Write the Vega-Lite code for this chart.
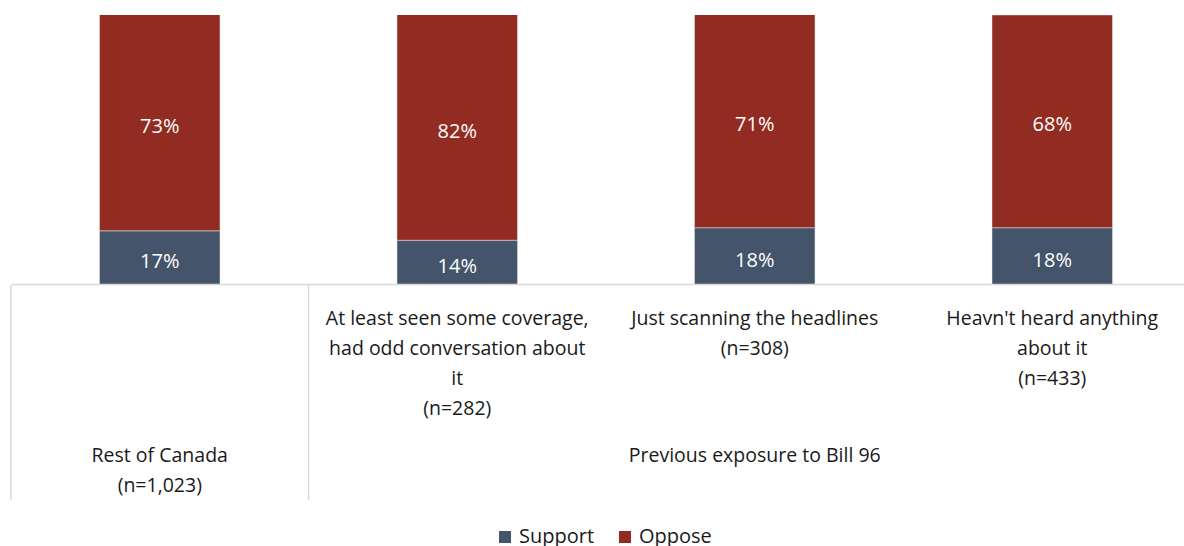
{
  "$schema": "https://vega.github.io/schema/vega-lite/v6.json",
  "padding": {"left": 10, "top": 15, "right": 0, "bottom": 0},
  "background": "white",
  "config": {"font": "Open Sans", "view": {"stroke": null}, "concat": {"spacing": 0}},
  "datasets": {
    "bars": [
      {"category": "Rest of Canada", "Support": 0.17, "Oppose": 0.73},
      {"category": "At least seen some coverage", "Support": 0.14, "Oppose": 0.82},
      {"category": "Just scanning the headlines", "Support": 0.18, "Oppose": 0.71},
      {"category": "Heavn't heard anything", "Support": 0.18, "Oppose": 0.68}
    ],
    "labels": [
      {"category": "Rest of Canada", "tier": "group", "label": "Rest of Canada\n(n=1,023)"},
      {"category": "At least seen some coverage", "tier": "category", "label": "At least seen some coverage,\nhad odd conversation about\nit\n(n=282)"},
      {"category": "Just scanning the headlines", "tier": "category", "label": "Just scanning the headlines\n(n=308)"},
      {"category": "Heavn't heard anything", "tier": "category", "label": "Heavn't heard anything\nabout it\n(n=433)"},
      {"category": "Just scanning the headlines", "tier": "group", "label": "Previous exposure to Bill 96"}
    ],
    "dividers": [
      {"category": "Rest of Canada"},
      {"category": "At least seen some coverage"}
    ]
  },
  "resolve": {"scale": {"x": "independent", "y": "independent"}},
  "vconcat": [
    {
      "width": 1190,
      "height": 269,
      "data": {"name": "bars"},
      "encoding": {
        "x": {
          "field": "category", "type": "nominal", "sort": null,
          "scale": {"paddingInner": 0.595, "paddingOuter": 0.2975},
          "axis": {"labels": false, "ticks": false, "title": null, "domainColor": "#d9d9d9", "domainWidth": 1.5, "grid": false}
        }
      },
      "layer": [
        {
          "transform": [{"fold": ["Support", "Oppose"], "as": ["response", "value"]}],
          "mark": {"type": "bar", "clip": true, "stroke": "#e6e6e6", "strokeWidth": 0.5},
          "encoding": {
            "y": {"field": "value", "type": "quantitative", "stack": "zero", "scale": {"domain": [0, 0.86], "nice": false}, "axis": null},
            "color": {
              "field": "response", "type": "nominal",
              "scale": {"domain": ["Support", "Oppose"], "range": ["#44546A", "#922B21"]},
              "legend": {"orient": "none", "legendX": 484, "legendY": 512, "direction": "horizontal", "title": null, "symbolType": "square", "symbolSize": 144, "symbolStrokeWidth": 0, "labelFontSize": 20, "labelFont": "Open Sans", "labelColor": "#1a1a1a", "labelOffset": 4, "columnPadding": 20}
            },
            "order": {"field": "response", "sort": "descending"}
          }
        },
        {
          "transform": [{"calculate": "datum.Support / 2", "as": "supMid"}],
          "mark": {"type": "text", "color": "white", "fontSize": 20, "baseline": "middle", "dy": 5},
          "encoding": {
            "y": {"field": "supMid", "type": "quantitative", "scale": {"domain": [0, 0.86], "nice": false}, "axis": null},
            "text": {"field": "Support", "type": "quantitative", "format": ".0%"}
          }
        },
        {
          "transform": [{"calculate": "(datum.Support + 0.86) / 2", "as": "oppMid"}],
          "mark": {"type": "text", "color": "white", "fontSize": 20, "baseline": "middle", "dy": 4},
          "encoding": {
            "y": {"field": "oppMid", "type": "quantitative", "scale": {"domain": [0, 0.86], "nice": false}, "axis": null},
            "text": {"field": "Oppose", "type": "quantitative", "format": ".0%"}
          }
        }
      ]
    },
    {
      "width": 1190,
      "height": 215,
      "layer": [
        {
          "data": {"name": "dividers"},
          "mark": {"type": "rule", "color": "#d9d9d9", "strokeWidth": 1.5},
          "encoding": {
            "x": {
              "field": "category", "type": "nominal", "bandPosition": 0,
              "scale": {"domain": ["Rest of Canada", "At least seen some coverage", "Just scanning the headlines", "Heavn't heard anything"], "padding": 0},
              "axis": null
            }
          }
        },
        {
          "data": {"name": "labels"},
          "mark": {"type": "text", "baseline": "top", "fontSize": 19.5, "lineHeight": 30, "lineBreak": "\n", "color": "#1a1a1a"},
          "encoding": {
            "x": {"field": "category", "type": "nominal", "axis": null},
            "y": {"field": "tier", "type": "ordinal", "scale": {"type": "point", "domain": ["category", "group"], "range": [25, 162], "padding": 0}, "axis": null},
            "text": {"field": "label"}
          }
        }
      ]
    }
  ]
}
